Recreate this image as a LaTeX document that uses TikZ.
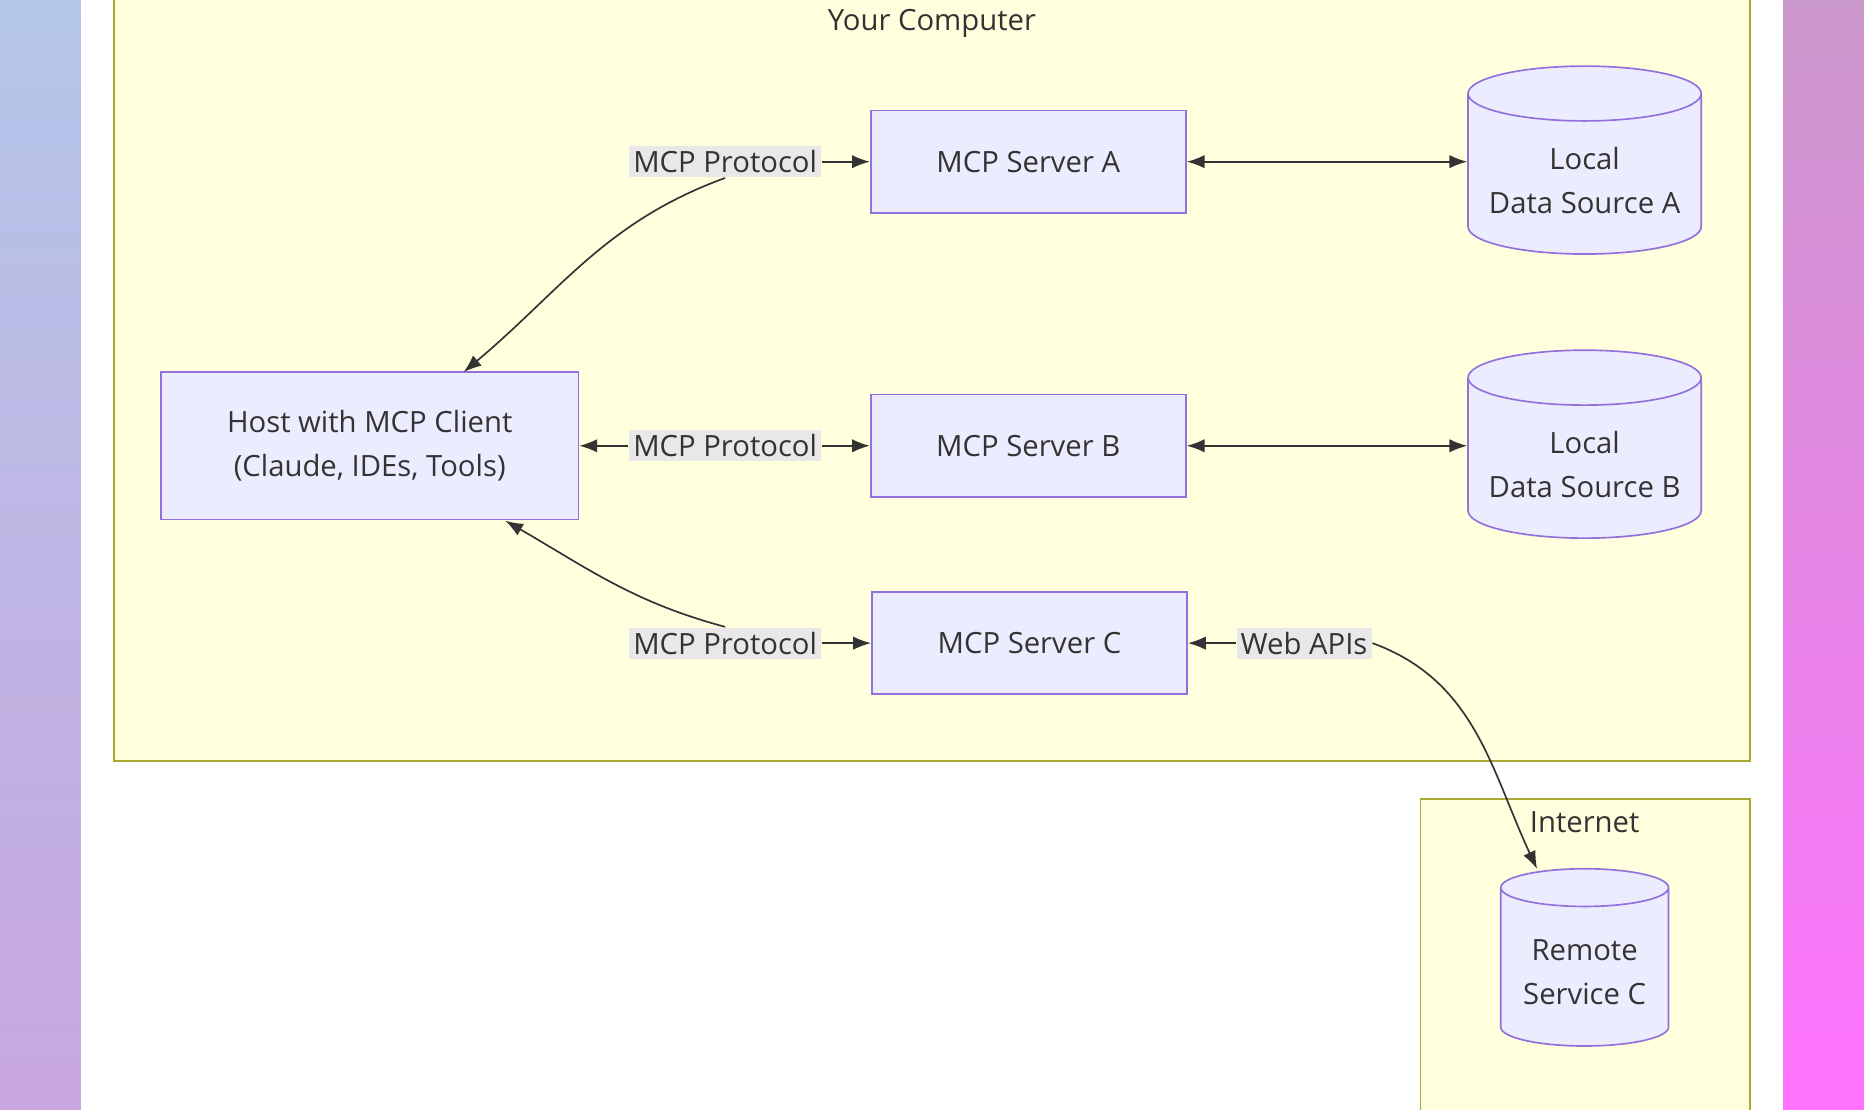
\documentclass[tikz,border=0pt]{standalone}
\usepackage{fontspec}
\setmainfont{Open Sans}
\usetikzlibrary{positioning, shapes.geometric, arrows.meta}
\definecolor{boxfill}{HTML}{ECECFF}
\definecolor{boxline}{HTML}{9370DB}
\definecolor{grpfill}{HTML}{FFFFDE}
\definecolor{grpline}{HTML}{AAAA33}
\definecolor{lblfill}{HTML}{E8E8E8}
\definecolor{edge}{HTML}{333333}
\definecolor{lefttop}{HTML}{B4C6EA}
\definecolor{leftbot}{HTML}{C8A6DE}
\tikzset{
	srv/.style={draw=boxline, fill=boxfill, minimum width=2.65cm, minimum height=0.86cm, align=center, text=edge},
	db/.style={cylinder, shape border rotate=90, draw=boxline, fill=boxfill, aspect=0.25, align=center, text=edge},
	lbl/.style={fill=lblfill, inner sep=1pt, text=edge},
	con/.style={draw=edge, -{Latex[length=1.5mm]}},
	both/.style={draw=edge, {Latex[length=1.5mm]}-{Latex[length=1.5mm]}}
}
\begin{document}
\begin{tikzpicture}[x=0.01cm, y=-0.01cm, font=\fontsize{7}{10.5}\selectfont]
	% background
	\useasboundingbox (0,0) rectangle (1568,933);
	\shade[top color=lefttop, bottom color=leftbot] (0,0) rectangle (68,933);
	\shade[top color=violet!40, bottom color=magenta!55] (1500,0) rectangle (1568,933);
	\fill[white] (68,0) rectangle (1500,933);

	% groups
	\draw[grpline, fill=grpfill] (96,-2) rectangle (1472,640);
	\node[text=edge] (T1) at (784,20) {Your Computer};
	\draw[grpline, fill=grpfill] (1195,672) rectangle (1472,940);
	\node[text=edge] (T2) at (1333,692) {Internet};

	% nodes
	\node[srv, minimum width=3.51cm, minimum height=1.24cm] (H) at (311,375) {Host with MCP Client\\(Claude, IDEs, Tools)};
	\node[srv] (SA) at (865,136) {MCP Server A};
	\node[srv] (SB) at (865,375) {MCP Server B};
	\node[srv] (SC) at (866,541) {MCP Server C};
	\node[db, minimum width=1.96cm, minimum height=1.58cm] (DA) at (1333,152) {Local\\Data Source A};
	\node[db, minimum width=1.96cm, minimum height=1.58cm] (DB) at (1333,391) {Local\\Data Source B};
	\node[db, minimum width=1.41cm, minimum height=1.49cm] (RC) at (1333,818) {Remote\\Service C};

	\node[lbl] (LA) at (610,136) {MCP Protocol};
	\node[lbl] (LB) at (610,375) {MCP Protocol};
	\node[lbl] (LC) at (610,541) {MCP Protocol};
	\node[lbl] (LW) at (1097,541) {Web APIs};

	% edges
	\draw[con] (LA) -- (SA);
	\draw[con] (LA.south) to[out=200, in=40] (390,313);
	\draw[con] (LB) -- (H);
	\draw[con] (LB) -- (SB);
	\draw[con] (LC) -- (SC);
	\draw[con] (LC.north) to[out=165, in=-30] (425,438);
	\draw[both] (SA.east) -- (SA.east -| DA.west);
	\draw[both] (SB.east) -- (SB.east -| DB.west);
	\draw[con] (LW) -- (SC);
	\draw[con] (LW.east) to[out=-20, in=115] (1293,731);
\end{tikzpicture}
\end{document}
